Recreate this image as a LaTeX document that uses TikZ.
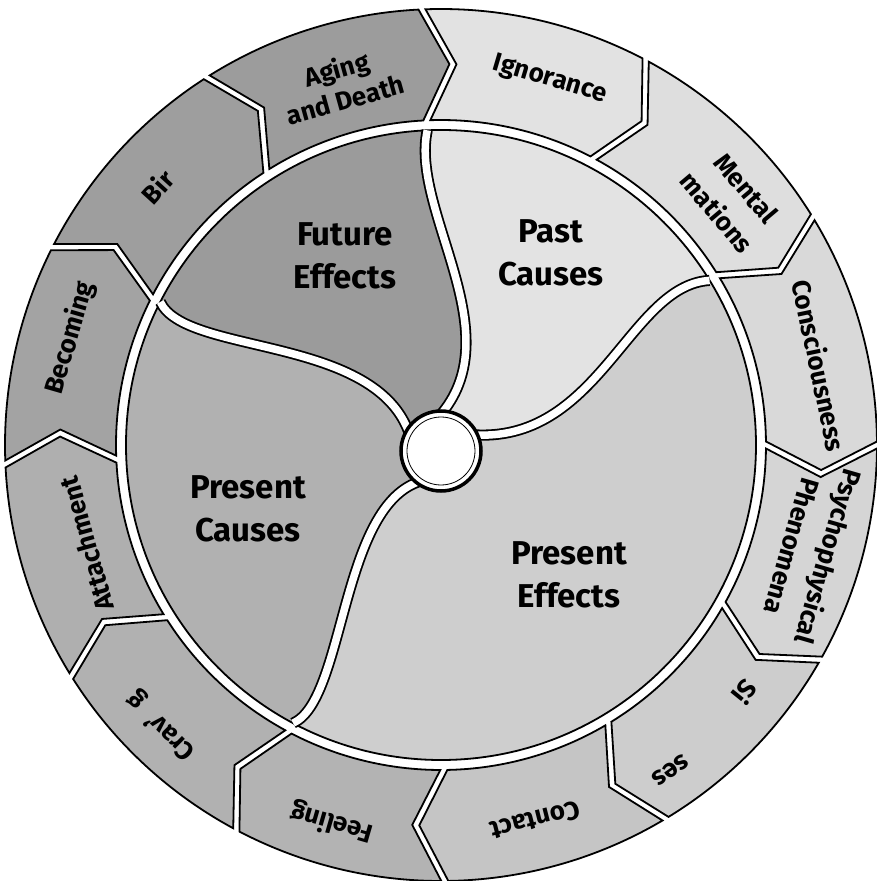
\documentclass[tikz,border=0pt]{standalone}
\usepackage{fontspec}
\setmainfont{Fira Sans}
\definecolor{cPast}{HTML}{E3E3E3}
\definecolor{cPEff}{HTML}{CECECE}
\definecolor{cPCau}{HTML}{B1B1B1}
\definecolor{cFut}{HTML}{9B9B9B}
\definecolor{sIgn}{HTML}{E2E2E2}
\definecolor{sMen}{HTML}{DEDEDE}
\definecolor{sCon}{HTML}{D9D9D9}
\definecolor{sPsy}{HTML}{D5D5D5}
\definecolor{sSen}{HTML}{CDCDCD}
\definecolor{sCot}{HTML}{C5C5C5}
\definecolor{sFee}{HTML}{B3B3B3}
\definecolor{sCra}{HTML}{B1B1B1}
\definecolor{sAtt}{HTML}{AFAFAF}
\definecolor{sBec}{HTML}{A3A3A3}
\definecolor{sBir}{HTML}{9E9E9E}
\definecolor{sAge}{HTML}{9C9C9C}
\begin{document}
\begin{tikzpicture}[x=1pt,y=1pt,
  segbox/.style={draw=black, line width=1.8pt, line join=miter},
  band/.style={draw=black, line width=1.8pt, double=white, double distance=7.5pt},
  seglab/.style={font=\bfseries\fontsize{26}{32}\selectfont, align=center, inner sep=0pt},
  inlab/.style={font=\bfseries\fontsize{33}{43}\selectfont, align=center, inner sep=0pt}]
\fill[white] (-441,-436) rectangle (436,445);
\useasboundingbox (-441,-436) rectangle (436,445);

% outer ring segments (chevrons pointing clockwise)
\foreach \lo/\hi/\c in {0/31.5/sCon, 31.5/62/sMen, 62/92.5/sIgn, 92.5/122.5/sAge,
  122.5/153/sBir, 153/182.5/sBec, 182.5/212/sAtt, 212/242/sCra, 242/270.5/sFee,
  270.5/301/sCot, 301/330.5/sSen, 330.5/360/sPsy}{
  \filldraw[segbox, fill=\c] ({\lo+0.46}:436pt)
    arc[start angle={\lo+0.46}, end angle={\hi-0.46}, radius=436pt]
    -- ({\hi-4.3-0.53}:381pt) -- ({\hi-0.62}:325pt)
    arc[start angle={\hi-0.62}, end angle={\lo+0.62}, radius=325pt]
    -- ({\lo-4.3+0.53}:381pt) -- cycle;
}

% inner regions
\fill[cPast] (0,-6) -- (1,32) .. controls (69,115) and (-31,235) .. (92.5:315pt)
  arc[start angle=92.5, end angle=31.5, radius=315pt]
  .. controls (189,160) and (159,5) .. (36,10) -- cycle;
\fill[cPEff] (0,-6) -- (36,10) .. controls (159,5) and (189,160) .. (31.5:315pt)
  arc[start angle=31.5, end angle=-118, radius=315pt]
  .. controls (-96,-255) and (-101,-65) .. (-23,-37) -- cycle;
\fill[cPCau] (0,-6) -- (-23,-37) .. controls (-101,-65) and (-96,-255) .. (242:315pt)
  arc[start angle=242, end angle=153, radius=315pt]
  .. controls (-256,90) and (-71,110) .. (-33,15) -- cycle;
\fill[cFut] (0,-6) -- (-33,15) .. controls (-71,110) and (-256,90) .. (153:315pt)
  arc[start angle=153, end angle=92.5, radius=315pt]
  .. controls (-31,235) and (69,115) .. (1,32) -- cycle;

\draw[line width=1.8pt] (0,0) circle[radius=315pt];

% separating bands
\draw[band] (92.5:315pt) .. controls (-31,235) and (69,115) .. (1,32) -- (0,-6);
\draw[band] (0,-6) -- (36,10) .. controls (159,5) and (189,160) .. (31.5:315pt);
\draw[band] (0,-6) -- (-23,-37) .. controls (-101,-65) and (-96,-255) .. (242:315pt);
\draw[band] (153:315pt) .. controls (-256,90) and (-71,110) .. (-33,15) -- (0,-6);

% hub
\node[circle, draw=black, fill=white, line width=3.5pt, minimum size=80pt, inner sep=0pt] (hub) at (0,-6) {};
\node[circle, draw=black, line width=0.8pt, minimum size=68pt, inner sep=0pt] (hubin) at (0,-6) {};

% inner labels
\node[inlab] (fut) at (-96,189) {Future\\Effects};
\node[inlab] (past) at (110,192) {Past\\Causes};
\node[inlab] (pcau) at (-193,-64) {Present\\Causes};
\node[inlab] (peff) at (128,-130) {Present\\Effects};

% segment labels
\node[seglab, rotate=15.5] (aging) at (105.5:375pt) {Aging\\and Death};
\node[seglab, rotate=-16.6] (ign) at (73.4:381pt) {Ignorance};
\node[seglab, rotate=-49.9, font=\bfseries\fontsize{26}{38}\selectfont] (ment) at (40.1:380pt) {Mental\\mations};
\node[seglab, rotate=-78.1] (cons) at (11.9:387pt) {Consciousness};
\node[seglab, rotate=-106.1, font=\bfseries\fontsize{26}{38}\selectfont] (psy) at (-16.1:385pt) {Psychophysical\\Phenomena};
\node[seglab, rotate=-129] (si) at (-39.1:392pt) {Si};
\node[seglab, rotate=-144.8] (ses) at (-54.8:398pt) {ses};
\node[seglab, rotate=-165.9] (cont) at (-75.9:387pt) {Contact};
\node[seglab, rotate=163.9] (feel) at (-106.1:393pt) {Feeling};
\node[seglab, rotate=135.1] (crav) at (-134.9:396pt) {Crav'\enspace g};
\node[seglab, rotate=105.6] (att) at (195.6:368pt) {Attachment};
\node[seglab, rotate=73.9] (bec) at (163.9:386pt) {Becoming};
\node[seglab, rotate=47.7] (bir) at (137.7:384pt) {Bir};
\end{tikzpicture}
\end{document}
